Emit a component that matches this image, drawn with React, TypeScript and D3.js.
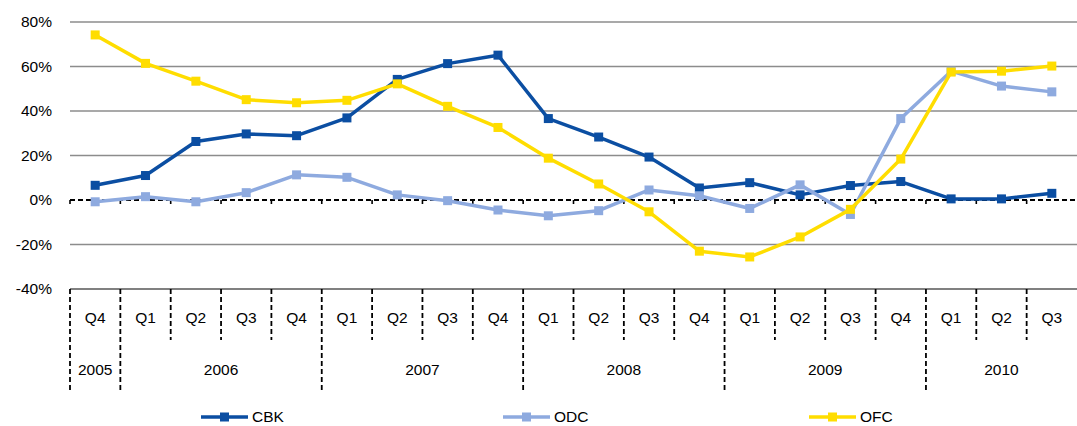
import React from 'react';
import * as d3 from 'd3';

const quarters = ['Q4', 'Q1', 'Q2', 'Q3', 'Q4', 'Q1', 'Q2', 'Q3', 'Q4', 'Q1', 'Q2', 'Q3', 'Q4', 'Q1', 'Q2', 'Q3', 'Q4', 'Q1', 'Q2', 'Q3'];
const years = [
  { label: '2005', start: 0, end: 1 },
  { label: '2006', start: 1, end: 5 },
  { label: '2007', start: 5, end: 9 },
  { label: '2008', start: 9, end: 13 },
  { label: '2009', start: 13, end: 17 },
  { label: '2010', start: 17, end: 20 },
];
const yTicks = [80, 60, 40, 20, 0, -20, -40];

const cbk = [6.6, 11, 26.3, 29.7, 28.9, 36.9, 54.2, 61.3, 65.1, 36.6, 28.3, 19.3, 5.4, 7.8, 2.3, 6.5, 8.3, 0.5, 0.5, 3.0];
const odc = [-0.8, 1.5, -0.8, 3.3, 11.3, 10.2, 2.3, -0.3, -4.5, -7.1, -4.8, 4.5, 1.9, -3.8, 6.8, -6.5, 36.6, 57.9, 51.2, 48.6];
const ofc = [74.2, 61.4, 53.4, 45.1, 43.7, 44.8, 52.2, 42.1, 32.6, 18.8, 7.2, -5.3, -23.0, -25.6, -16.6, -4.2, 18.4, 57.5, 57.9, 60.2];

const series = [
  { name: 'CBK', values: cbk, color: '#0B4EA2' },
  { name: 'ODC', values: odc, color: '#8EAADF' },
  { name: 'OFC', values: ofc, color: '#FFDD00' },
];

const W = 1077;
const H = 426;
const left = 70;
const right = 1077;
const top = 22;
const bottom = 289;

export default function App() {
  const x = d3.scaleBand<number>().domain(d3.range(quarters.length)).range([left, right]).padding(0);
  const y = d3.scaleLinear().domain([-40, 80]).range([bottom, top]);
  const bw = x.bandwidth();
  const line = d3
    .line<number>()
    .x((_, i) => (x(i) as number) + bw / 2)
    .y((d) => y(d));
  const yearStarts = new Set(years.map((d) => d.start));
  const font = 'Liberation Sans, Arial, sans-serif';
  const fs = 15.5;
  const legendX = [201, 503, 809];

  return (
    <svg width={W} height={H} style={{ position: 'absolute', left: 0, top: 0 }} fontFamily={font}>
      <rect width={W} height={H} fill="#fff" />
      {yTicks.map((t) => (
        <g key={t}>
          {t !== 0 && t !== -40 && (
            <line x1={left} x2={W} y1={y(t)} y2={y(t)} stroke="#8c8c8c" strokeWidth={1.3} />
          )}
          <text x={52} y={y(t)} dy="0.35em" textAnchor="end" fontSize={fs} fill="#000">
            {t}%
          </text>
        </g>
      ))}
      <line x1={left} x2={W} y1={bottom} y2={bottom} stroke="#808080" strokeWidth={2} />
      {quarters.map((q, i) => {
        const x0 = x(i) as number;
        const isYear = yearStarts.has(i);
        return (
          <g key={i}>
            <line x1={x0} x2={x0} y1={y(0)} y2={y(0) + 4} stroke="#000" strokeWidth={1.6} />
            <line
              x1={x0}
              x2={x0}
              y1={bottom}
              y2={isYear ? 391 : 340}
              stroke="#000"
              strokeWidth={1.8}
              strokeDasharray="5 3"
            />
            <text x={x0 + bw / 2} y={318} dy="0.35em" textAnchor="middle" fontSize={fs} fill="#000">
              {q}
            </text>
          </g>
        );
      })}
      {years.map((yr) => {
        const x0 = x(yr.start) as number;
        const x1 = yr.end >= quarters.length ? right : (x(yr.end) as number);
        return (
          <text key={yr.label} x={(x0 + x1) / 2} y={370} dy="0.35em" textAnchor="middle" fontSize={fs} fill="#000">
            {yr.label}
          </text>
        );
      })}
      <line x1={left} x2={W} y1={y(0)} y2={y(0)} stroke="#000" strokeWidth={1.8} strokeDasharray="5 3" />
      {series.map((s) => (
        <g key={s.name}>
          <path d={line(s.values) || ''} fill="none" stroke={s.color} strokeWidth={3.5} strokeLinejoin="round" />
          {s.values.map((v, i) => (
            <rect
              key={i}
              x={(x(i) as number) + bw / 2 - 4.5}
              y={y(v) - 4.5}
              width={9}
              height={9}
              fill={s.color}
            />
          ))}
        </g>
      ))}
      {series.map((s, i) => (
        <g key={s.name} transform={`translate(${legendX[i]},417)`}>
          <line x1={0} x2={47} y1={0} y2={0} stroke={s.color} strokeWidth={3.5} />
          <rect x={19} y={-4.5} width={9} height={9} fill={s.color} />
          <text x={51} y={0} dy="0.35em" fontSize={fs} fill="#000">
            {s.name}
          </text>
        </g>
      ))}
    </svg>
  );
}
